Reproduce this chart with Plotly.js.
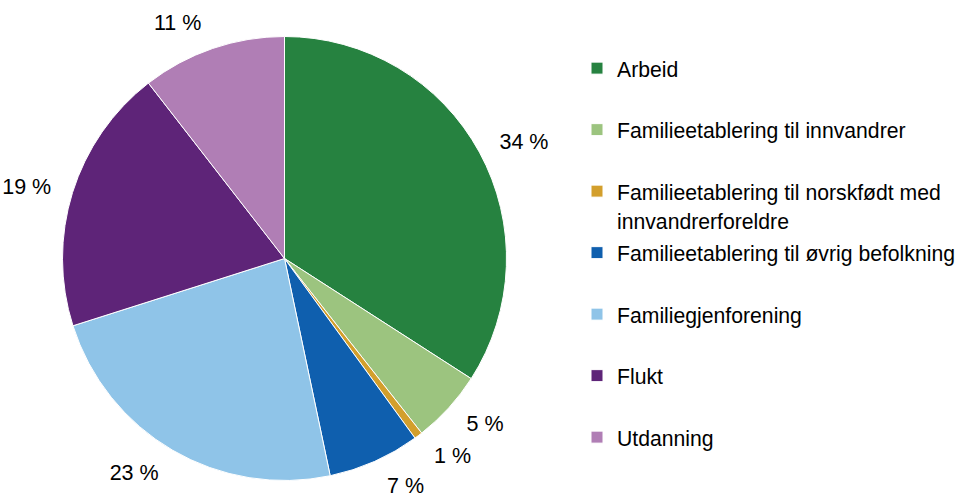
<!DOCTYPE html>
<html>
<head>
<meta charset="utf-8">
<script src="https://cdn.plot.ly/plotly-3.0.1.min.js"></script>
<style>html,body{margin:0;padding:0;background:#fff;overflow:hidden;}#chart{width:957px;height:505px;}</style>
</head>
<body>
<div id="chart"></div>
<script>
// Data
var categories = [
  "Arbeid",
  "Familieetablering til innvandrer",
  "Familieetablering til norskfødt med<br>innvandrerforeldre",
  "Familieetablering til øvrig befolkning",
  "Familiegjenforening",
  "Flukt",
  "Utdanning"
];
var shares = [34.1, 5.3, 0.6, 6.7, 23.4, 19.4, 10.5];
var colors = ["#268240", "#9CC47F", "#D39F2C", "#0F5FAE", "#8FC4E8", "#5E2478", "#B07EB5"];

var W = 957, H = 505;
var cx = 284.5, cy = 258.5, R = 222, RL = 238;
var FONT = "Liberation Sans, Arial, sans-serif";

function legendLabel(c) {
  var lines = c.split("<br>");
  var out = lines.map(function (l) { return '<span style="font-size:21.2px">' + l + '</span>'; });
  while (out.length < 2) out.push("&nbsp;");
  return out.join("<br>");
}
function dom(r) {
  return { x: [(cx - r) / W, (cx + r) / W], y: [(H - cy - r) / H, (H - cy + r) / H] };
}

var pieTrace = {
  type: "pie",
  labels: categories.map(legendLabel),
  values: shares,
  textinfo: "none",
  sort: false,
  direction: "clockwise",
  rotation: 0,
  marker: { colors: colors, line: { color: "#ffffff", width: 1 } },
  domain: dom(R)
};

var labelTrace = {
  type: "pie",
  labels: categories.map(legendLabel),
  values: shares,
  text: shares.map(function (v) { return Math.round(v) + " %"; }),
  textinfo: "text",
  textposition: "outside",
  outsidetextfont: { family: FONT, size: 21.5, color: "#000" },
  sort: false,
  direction: "clockwise",
  rotation: 0,
  showlegend: false,
  hoverinfo: "skip",
  marker: { colors: shares.map(function () { return "rgba(0,0,0,0)"; }), line: { width: 0 } },
  domain: dom(RL)
};

var layout = {
  width: W, height: H,
  margin: { l: 0, r: 0, t: 0, b: 0, autoexpand: false },
  paper_bgcolor: "#fff",
  font: { family: FONT, color: "#000" },
  showlegend: true,
  legend: {
    x: 577 / W, xanchor: "left",
    y: (H - 47) / H, yanchor: "top",
    valign: "top",
    font: { size: 22.5, family: FONT, color: "#000" },
    bgcolor: "rgba(0,0,0,0)"
  }
};

Plotly.newPlot("chart", [pieTrace, labelTrace], layout, { displayModeBar: false, staticPlot: true });
</script>
</body>
</html>
